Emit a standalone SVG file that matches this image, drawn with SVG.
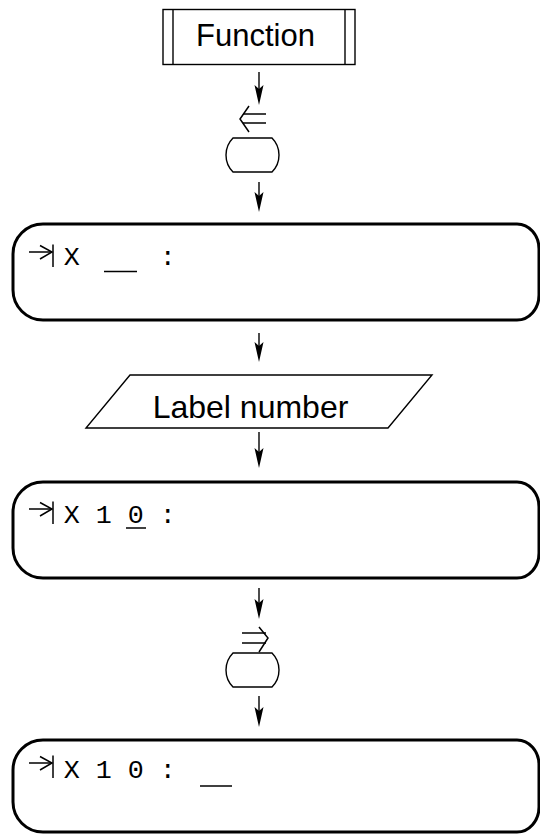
<svg xmlns="http://www.w3.org/2000/svg" width="540" height="835" viewBox="0 0 540 835">
<style>
.thin{fill:none;stroke:#000;stroke-width:1.4}
.box{fill:none;stroke:#000;stroke-width:3}
.sans{font-family:"Liberation Sans",Arial,sans-serif;fill:#000}
.mono{font-family:"Liberation Mono","Courier New",monospace;font-size:26.7px;fill:#000}
.sym{fill:none;stroke:#000;stroke-width:1.5}
</style>
<defs>
<marker id="ah" markerUnits="userSpaceOnUse" viewBox="0 -5 21 10" refX="10" refY="0" markerWidth="21" markerHeight="10" orient="auto">
<path d="M0,-4.5 L20,0 L0,4.5 L4,0 Z" fill="#000"/>
</marker>
<g id="tabsym">
<line x1="29" y1="0" x2="51" y2="0"/>
<polyline points="40,-6.5 52,0 40,7"/>
<line x1="53" y1="-7.5" x2="53" y2="15"/>
</g>
</defs>

<g id="connectors" class="thin">
<line x1="259" y1="72" x2="259" y2="95" marker-end="url(#ah)"/>
<line x1="259" y1="182" x2="259" y2="202" marker-end="url(#ah)"/>
<line x1="259" y1="333" x2="259" y2="352" marker-end="url(#ah)"/>
<line x1="259" y1="432" x2="259" y2="458" marker-end="url(#ah)"/>
<line x1="259" y1="588" x2="259" y2="609" marker-end="url(#ah)"/>
<line x1="259" y1="696" x2="259" y2="717" marker-end="url(#ah)"/>
</g>

<g id="function">
<rect class="thin" x="163" y="9.5" width="192" height="55"/>
<line class="thin" x1="173" y1="9.5" x2="173" y2="64.5"/>
<line class="thin" x1="345" y1="9.5" x2="345" y2="64.5"/>
<text class="sans" x="255.5" y="46" font-size="31" text-anchor="middle">Function</text>
</g>

<g id="shift-left">
<polyline class="sym" points="249,106 240,119 249,132"/>
<line class="sym" x1="243" y1="114" x2="266" y2="114"/>
<line class="sym" x1="243" y1="123" x2="266" y2="123"/>
</g>

<g id="key1">
<path class="thin" d="M233,138 H272 C277,143 279,150 279,155 C279,160 277,167 272,172 H233 C228,167 226,160 226,155 C226,150 228,143 233,138 Z"/>
</g>

<g id="display1">
<path class="box" d="M43,224 H517 A22,25 0 0 1 539,249 V295 A22,25 0 0 1 517,320 H43 A30,30 0 0 1 13,290 V254 A30,30 0 0 1 43,224 Z"/>
<use href="#tabsym" class="sym" transform="translate(0,252)"/>
<text class="mono" x="63.7 159.7" y="265">X:</text>
<line class="sym" x1="104" y1="271.5" x2="137" y2="271.5"/>
</g>

<g id="label">
<polygon class="thin" points="130,375 432,375 388,428 86,428"/>
<text class="sans" x="250.5" y="417.5" font-size="32" text-anchor="middle">Label number</text>
</g>

<g id="display2">
<path class="box" d="M43,482 H517 A22,25 0 0 1 539,507 V553 A22,25 0 0 1 517,578 H43 A30,30 0 0 1 13,548 V512 A30,30 0 0 1 43,482 Z"/>
<use href="#tabsym" class="sym" transform="translate(0,509)"/>
<text class="mono" x="63.7 95.7 127.7 159.7" y="523">X10:</text>
<line class="sym" x1="126" y1="528" x2="146" y2="528"/>
</g>

<g id="shift-right">
<polyline class="sym" points="259,627 268,638 259,652"/>
<line class="sym" x1="242" y1="633" x2="266" y2="633"/>
<line class="sym" x1="242" y1="643" x2="266" y2="643"/>
</g>

<g id="key2">
<path class="thin" transform="translate(0,515)" d="M233,138 H272 C277,143 279,150 279,155 C279,160 277,167 272,172 H233 C228,167 226,160 226,155 C226,150 228,143 233,138 Z"/>
</g>

<g id="display3">
<path class="box" d="M43,740 H517 A22,25 0 0 1 539,765 V807 A22,25 0 0 1 517,832 H43 A30,30 0 0 1 13,802 V770 A30,30 0 0 1 43,740 Z"/>
<use href="#tabsym" class="sym" transform="translate(0,763)"/>
<text class="mono" x="63.7 95.7 127.7 159.7" y="778">X10:</text>
<line class="sym" x1="200" y1="786" x2="232" y2="786"/>
</g>
</svg>
